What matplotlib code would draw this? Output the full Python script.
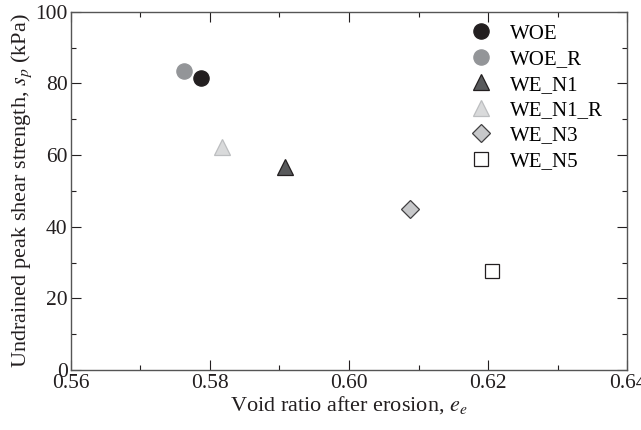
import numpy as np
import matplotlib
matplotlib.use('Agg')
import matplotlib.pyplot as plt
from matplotlib.ticker import MultipleLocator

plt.rcParams['font.family'] = ['Liberation Serif', 'DejaVu Serif']
plt.rcParams['mathtext.fontset'] = 'stix'

# data
names = ['WOE', 'WOE_R', 'WE_N1', 'WE_N1_R', 'WE_N3', 'WE_N5']
void_ratio = [0.5787, 0.5763, 0.5908, 0.5818, 0.6087, 0.6205]
shear_strength = [81.4, 83.5, 56.6, 62.3, 44.8, 27.6]

markers = ['o', 'o', '^', '^', 'D', 's']
faces = ['#231f20', '#939598', '#58595b', '#d9dadb', '#c7c8ca', 'white']
edges = ['#231f20', '#939598', '#231f20', '#bcbec0', '#414042', '#231f20']
msizes = [11, 11, 11, 11, 9, 9.5]

fig = plt.figure(figsize=(6.41, 4.30), dpi=100)
ax = fig.add_axes([0.110, 0.1395, 0.8688, 0.8333])

for ii in range(len(names)):
    ax.plot(void_ratio[ii], shear_strength[ii], ls='none', marker=markers[ii], ms=msizes[ii],
            mfc=faces[ii], mec=edges[ii], mew=0.9, label=names[ii])

ax.set_xlim([0.56, 0.64])
ax.set_ylim([0, 100])
ax.xaxis.set_major_locator(MultipleLocator(0.02))
ax.xaxis.set_minor_locator(MultipleLocator(0.01))
ax.yaxis.set_major_locator(MultipleLocator(20))
ax.yaxis.set_minor_locator(MultipleLocator(10))
ax.xaxis.set_major_formatter(matplotlib.ticker.FormatStrFormatter('%.2f'))
ax.tick_params(which='both', direction='in', top=True, right=True, labelsize=15.5, colors='#231f20')
ax.tick_params(which='major', length=7, width=0.8)
ax.tick_params(which='minor', length=3.5, width=0.8)
ax.tick_params(axis='x', pad=3)
ax.tick_params(axis='y', pad=2)
for sp in ax.spines.values():
    sp.set_linewidth(1.0)
    sp.set_color('#555555')

ax.set_xlabel('Void ratio after erosion, $e_e$', fontsize=16, color='#231f20', labelpad=1)
ax.set_ylabel('Undrained peak shear strength, $s_p$ (kPa)', fontsize=16, color='#231f20', labelpad=1)

ax.legend(loc='upper left', bbox_to_anchor=(0.696, 1.0), frameon=False, fontsize=15,
          handlelength=1.0, handletextpad=0.9, labelspacing=0.28, borderaxespad=0.2)

plt.savefig('out.png', dpi=100)
